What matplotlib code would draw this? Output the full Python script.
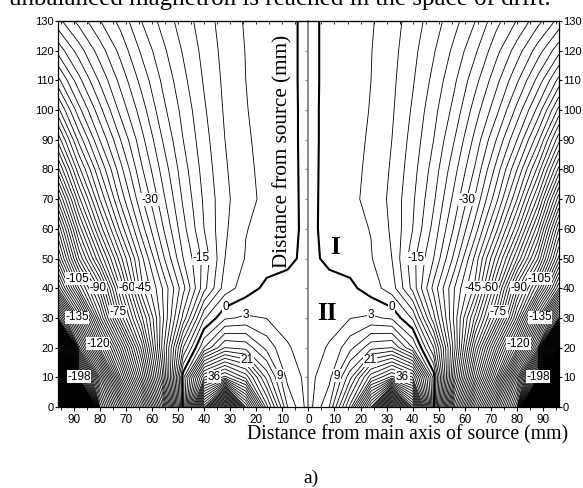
import numpy as np
import matplotlib
matplotlib.use('Agg')
import matplotlib.pyplot as plt
from matplotlib.ticker import FuncFormatter, MultipleLocator

plt.rcParams['font.family'] = ['Liberation Sans', 'DejaVu Sans']

# distance from main axis (mm) for one half, the other half is the mirror
dist = [0, 8, 16, 24, 32, 40, 48, 56, 64, 72, 80, 88, 96]
# distance from source (mm)
height = [0, 10, 20, 30, 40, 50, 60, 70, 80, 90, 100, 110, 120, 130]

# field values, one list per height
row_000 = [1.5, 9, 28, 60, 110, 65, 1, -55, -95, -130, -165, -350, -700]
row_010 = [2.0, 5, 17, 32, 40, 33, 2, -40, -75, -108, -148, -198, -500]
row_020 = [2.0, 3.2, 8, 14, 15, 6, -9, -35, -65, -92, -120, -155, -300]
row_030 = [2.0, 2.2, 2.9, 3.5, 2.5, -3.5, -20, -37, -55, -74, -100, -132, -170]
row_040 = [2.0, 2.0, 0.8, -1.5, -4.5, -13, -25, -36, -46, -66, -89, -108, -135]
row_050 = [1.5, -1.2, -1.5, -2.8, -6, -14, -21, -31, -43, -58, -75, -93, -118]
row_060 = [1.5, -1.8, -2.2, -3.1, -6.5, -12, -19, -27.5, -37.5, -50, -65, -83, -108]
row_070 = [1.5, -1.7, -2.4, -3.7, -6.8, -11.5, -17.5, -25, -33.5, -44, -57, -73, -95]
row_080 = [1.5, -1.6, -2.3, -3.5, -6.4, -10.8, -16.3, -23, -30.5, -40, -51, -64, -82]
row_090 = [1.5, -1.5, -2.2, -3.3, -6.0, -10.1, -15, -21, -28, -36, -45, -56, -71]
row_100 = [1.5, -1.5, -2.2, -3.1, -5.6, -9.4, -14, -19, -25.5, -32, -40, -49, -61]
row_110 = [1.5, -1.4, -2.1, -3.0, -5.3, -8.7, -12.8, -17.5, -23, -29, -35.5, -43, -52]
row_120 = [1.5, -1.4, -2.1, -2.9, -5.0, -8.1, -11.7, -15.8, -20.5, -26, -31.5, -37.5, -44]
row_130 = [1.5, -1.4, -2.0, -2.7, -4.6, -7.5, -10.5, -14, -18, -23, -27.2, -32, -37]

half = np.array([row_000, row_010, row_020, row_030, row_040, row_050, row_060,
                 row_070, row_080, row_090, row_100, row_110, row_120, row_130])
d = np.array(dist)
xs = np.concatenate([-d[::-1], d[1:]])
zs = np.concatenate([half[:, ::-1], half[:, 1:]], axis=1)
X, Y = np.meshgrid(xs, np.array(height))

# labelled contours with a point near each label (left side, mirrored on the right)
label_levels = [-198, -135, -120, -105, -90, -75, -60, -45, -30, -15, 3, 9, 21, 36]
label_left = [(-60, 70), (-42, 50), (-24, 31), (-24.6, 15), (-36, 10), (-12, 10),
              (-70, 40), (-64, 40), (-73, 32), (-81, 40), (-89, 43), (-80, 21.5),
              (-89, 30), (-89, 10)]
zero_left = [(-32, 34)]

levels = [v for v in range(-720, 120, 3) if v != 0 and v not in label_levels]

fig = plt.figure(figsize=(5.83, 4.88), dpi=100)
ax = fig.add_axes([0.0995, 0.166, 0.859, 0.791])

kw = dict(colors='k', linewidths=0.6, negative_linestyles='solid')
ax.contour(X, Y, zs, levels=levels, **kw)
csl = ax.contour(X, Y, zs, levels=label_levels, **kw)
cs0 = ax.contour(X, Y, zs, levels=[0], colors='k', linewidths=1.5)

pos = label_left + [(-x, y) for x, y in label_left]
txts = csl.clabel(manual=pos, inline=False, fmt='%d', fontsize=8.5)
zpos = zero_left + [(-x, y) for x, y in zero_left]
txts0 = cs0.clabel(manual=zpos, inline=False, fmt='%d', fontsize=8.5)
for t in list(txts) + list(txts0):
    t.set_rotation(0)
    t.set_bbox(dict(facecolor='white', edgecolor='none', pad=0.3))
    t.set_zorder(5)

ax.set_xlim(-96, 96)
ax.set_ylim(0, 130)
ax.xaxis.set_major_locator(MultipleLocator(10))
ax.xaxis.set_minor_locator(MultipleLocator(5))
ax.xaxis.set_major_formatter(FuncFormatter(lambda v, p: '%d' % abs(round(v))))
ax.yaxis.set_major_locator(MultipleLocator(10))
ax.tick_params(axis='x', which='major', direction='out', length=3, width=0.8,
               labelsize=8.5, pad=2)
ax.tick_params(axis='x', which='minor', direction='out', length=2, width=0.6)
ax.tick_params(axis='y', which='major', direction='out', length=2, width=0.8,
               labelsize=8, pad=1, right=True, labelright=True)
for s in ax.spines.values():
    s.set_linewidth(0.9)

top = ax.secondary_xaxis('top')
top.xaxis.set_major_locator(MultipleLocator(5))
top.tick_params(direction='in', length=2.5, width=0.6, labeltop=False)

mid = ax.secondary_yaxis(0.5)
mid.set_alignment('left')
mid.yaxis.set_major_locator(MultipleLocator(10))
mid.tick_params(direction='out', length=2.5, width=0.8, colors='grey', labelleft=False)
mid.spines['left'].set_color('grey')
mid.spines['left'].set_linewidth(1.3)

serif = ['Liberation Serif', 'DejaVu Serif']
fig.text(280 / 583, 1 - 4.5 / 488, 'unbalanced magnetron is reached in the space of drift.',
         family=serif, fontsize=18, ha='center', va='baseline')
fig.text(247 / 583, 1 - 439 / 488, 'Distance from main axis of source (mm)',
         family=serif, fontsize=14.2, ha='left', va='baseline')
fig.text(283 / 583, 1 - 151 / 488, 'Distance from source (mm)', family=serif,
         fontsize=15.2, rotation=90, ha='center', va='center')
fig.text(335 / 583, 1 - 247 / 488, 'I', family=serif, fontsize=18,
         fontweight='bold', ha='center', va='center')
fig.text(327 / 583, 1 - 313 / 488, 'II', family=serif, fontsize=18,
         fontweight='bold', ha='center', va='center')
fig.text(311 / 583, 1 - 478 / 488, 'a)', family=serif, fontsize=14,
         ha='center', va='center')

fig.savefig('out.png', dpi=100)
